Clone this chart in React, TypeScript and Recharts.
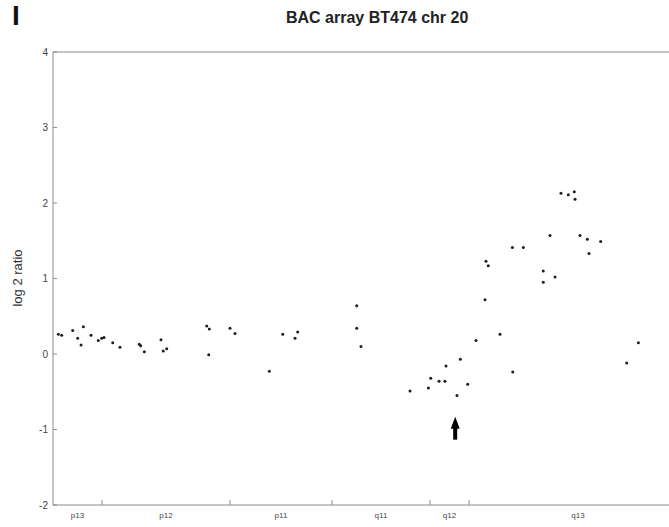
import { ScatterChart, Scatter, XAxis, YAxis, ReferenceLine, ReferenceDot } from "recharts";

// clone positions along chr 20 (Mb) and their log2 ratios
const positionsMb = [
  0.54, 0.88, 1.99, 2.49, 2.83, 3.06, 3.84, 4.57, 4.92, 5.15, 6.03, 6.76,
  8.71, 8.85, 9.22, 10.9, 11.13, 11.48, 15.52, 15.78, 15.72, 17.87, 18.37,
  21.84, 23.19, 24.43, 24.7, 30.66, 30.66, 31.09,
  36.04, 37.89, 38.13, 38.97, 39.57, 39.67, 40.78, 41.12, 41.86,
  42.7, 43.61, 43.71, 43.94, 45.12, 46.37, 47.48, 46.41, 49.49, 49.49,
  50.17, 50.68, 51.28, 52.02, 52.62, 52.7, 53.2, 53.94, 54.11, 55.29,
  57.91, 59.09,
];
const log2Ratios = [
  0.26, 0.25, 0.31, 0.21, 0.12, 0.36, 0.25, 0.18, 0.21, 0.22, 0.15, 0.09,
  0.13, 0.11, 0.03, 0.19, 0.04, 0.07, 0.37, 0.33, -0.01, 0.34, 0.27,
  -0.23, 0.26, 0.21, 0.29, 0.64, 0.34, 0.1,
  -0.49, -0.45, -0.32, -0.36, -0.36, -0.16, -0.55, -0.07, -0.4,
  0.18, 0.72, 1.23, 1.17, 0.26, 1.41, 1.41, -0.24, 1.1, 0.95,
  1.57, 1.02, 2.13, 2.11, 2.15, 2.05, 1.57, 1.52, 1.33, 1.49,
  -0.12, 0.15,
];

// cytoband boundaries and names
const bandBoundaries = [4.95, 17.87, 28.16, 38.06, 42.0];
const bandNames = ["p13", "p12", "p11", "q11", "q12", "q13"];
const chrLength = 64;
const yTicks = [-2, -1, 0, 1, 2, 3, 4];

// arrow pointing at the q12 loss
const arrowX = 40.6;
const arrowTipY = -0.83;

const AXIS = "#8c8c8c";
const TEXT = "#444";

const points = positionsMb.map((x, i) => ({ x, y: log2Ratios[i] }));

const bandEdges = [0, ...bandBoundaries, chrLength];
const bandMids = bandNames.map((_, i) => (bandEdges[i] + bandEdges[i + 1]) / 2);

const XTick = (props: any) => {
  const { x, y, payload } = props;
  const idx = bandMids.indexOf(payload.value);
  if (idx >= 0) {
    return (
      <text x={x} y={y + 13} textAnchor="middle" fontSize={8} fill={TEXT}>
        {bandNames[idx]}
      </text>
    );
  }
  return <line x1={x} x2={x} y1={y} y2={y - 5} stroke={AXIS} strokeWidth={1} />;
};

const YTick = (props: any) => {
  const { x, y, payload } = props;
  return (
    <g>
      <line x1={x} x2={x + 4} y1={y} y2={y} stroke={AXIS} strokeWidth={1} />
      <text x={x - 5} y={y + 3.5} textAnchor="end" fontSize={10} fill={TEXT}>
        {payload.value}
      </text>
    </g>
  );
};

const Dot = (props: any) => <circle cx={props.cx} cy={props.cy} r={1.5} fill="#1e1e1e" />;

const Arrow = (props: any) => {
  const { cx, cy } = props;
  return (
    <g fill="#000">
      <path d={`M${cx},${cy} L${cx + 4.5},${cy + 12} L${cx - 4.5},${cy + 12} Z`} />
      <rect x={cx - 2} y={cy + 11} width={4} height={12} />
    </g>
  );
};

export default function App() {
  return (
    <div
      style={{
        position: "absolute",
        left: 0,
        top: 0,
        width: 669,
        height: 527,
        overflow: "hidden",
        background: "#fff",
        fontFamily: "'Liberation Sans', Arial, sans-serif",
      }}
    >
      <div style={{ position: "absolute", left: 12, top: 0, fontSize: 28, fontWeight: 700, color: "#111" }}>I</div>
      <div
        style={{
          position: "absolute",
          left: 286,
          top: 9,
          fontSize: 16,
          fontWeight: 700,
          color: "#222",
          whiteSpace: "nowrap",
        }}
      >
        BAC array BT474 chr 20
      </div>
      <div
        style={{
          position: "absolute",
          left: 17,
          top: 278,
          transform: "translate(-50%, -50%) rotate(-90deg)",
          fontSize: 13,
          color: "#333",
          whiteSpace: "nowrap",
        }}
      >
        log 2 ratio
      </div>
      <ScatterChart width={700} height={527} margin={{ top: 52, right: 13, bottom: 0, left: 23 }}>
        <XAxis
          type="number"
          dataKey="x"
          domain={[0, chrLength]}
          ticks={[...bandBoundaries, ...bandMids]}
          interval={0}
          tick={<XTick />}
          tickLine={false}
          tickSize={0}
          tickMargin={0}
          height={22}
          axisLine={{ stroke: AXIS }}
        />
        <YAxis
          type="number"
          dataKey="y"
          domain={[-2, 4]}
          ticks={yTicks}
          interval={0}
          tick={<YTick />}
          tickLine={false}
          tickSize={0}
          tickMargin={0}
          width={30}
          axisLine={{ stroke: AXIS }}
        />
        <ReferenceLine y={4} stroke={AXIS} />
        <ReferenceLine x={chrLength} stroke={AXIS} />
        <Scatter data={points} shape={<Dot />} isAnimationActive={false} />
        <ReferenceDot x={arrowX} y={arrowTipY} shape={<Arrow />} />
      </ScatterChart>
    </div>
  );
}
